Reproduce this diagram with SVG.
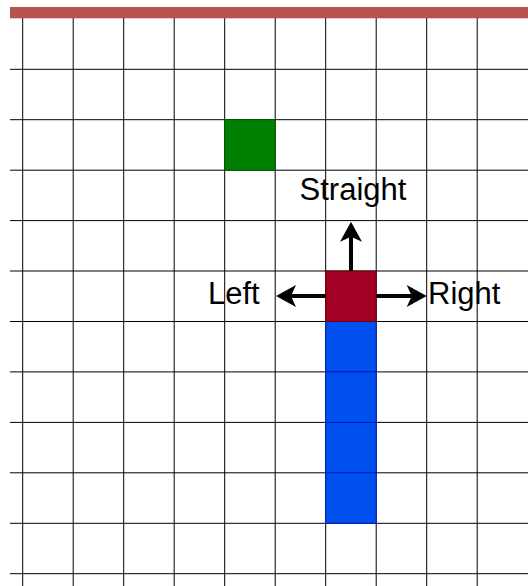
<svg xmlns="http://www.w3.org/2000/svg" width="528" height="586" viewBox="0 0 528 586">
<style>
.grid line{stroke:#000;stroke-width:1}
.lbl{font-family:"Liberation Sans",Arial,sans-serif;font-size:31px;fill:#000}
.arr{stroke:#000;stroke-width:4;fill:none}
.blue{fill:#0050ef;stroke:#001dbc;stroke-width:1}
</style>
<defs>
<marker id="ah" markerUnits="userSpaceOnUse" markerWidth="30" markerHeight="30" refX="5" refY="11" orient="auto" overflow="visible">
<path d="M0,0 L20,11 L0,22 L5,11 Z" fill="#000"/>
</marker>
</defs>
<rect width="528" height="586" fill="#fff"/>
<g class="grid" id="grid">
<line x1="22.7" y1="18" x2="22.7" y2="586"/>
<line x1="73.2" y1="18" x2="73.2" y2="586"/>
<line x1="123.7" y1="18" x2="123.7" y2="586"/>
<line x1="174.2" y1="18" x2="174.2" y2="586"/>
<line x1="224.7" y1="18" x2="224.7" y2="586"/>
<line x1="275.2" y1="18" x2="275.2" y2="586"/>
<line x1="325.7" y1="18" x2="325.7" y2="586"/>
<line x1="376.2" y1="18" x2="376.2" y2="586"/>
<line x1="426.7" y1="18" x2="426.7" y2="586"/>
<line x1="477.2" y1="18" x2="477.2" y2="586"/>
<line x1="10" y1="69.3" x2="528" y2="69.3"/>
<line x1="10" y1="119.7" x2="528" y2="119.7"/>
<line x1="10" y1="170.2" x2="528" y2="170.2"/>
<line x1="10" y1="220.6" x2="528" y2="220.6"/>
<line x1="10" y1="271" x2="528" y2="271"/>
<line x1="10" y1="321.5" x2="528" y2="321.5"/>
<line x1="10" y1="371.9" x2="528" y2="371.9"/>
<line x1="10" y1="422.4" x2="528" y2="422.4"/>
<line x1="10" y1="472.8" x2="528" y2="472.8"/>
<line x1="10" y1="523.3" x2="528" y2="523.3"/>
<line x1="10" y1="573.7" x2="528" y2="573.7"/>
</g>
<g id="wall"><rect x="10" y="7" width="518" height="11.3" fill="#b85450"/></g>
<g id="food"><rect x="224.7" y="119.7" width="50.5" height="50.5" fill="#008000" stroke="#005700" stroke-width="1"/></g>
<g id="snake-body">
<rect class="blue" x="325.7" y="321.5" width="50.5" height="50.4"/>
<rect class="blue" x="325.7" y="371.9" width="50.5" height="50.5"/>
<rect class="blue" x="325.7" y="422.4" width="50.5" height="50.4"/>
<rect class="blue" x="325.7" y="472.8" width="50.5" height="50.5"/>
</g>
<g id="snake-head"><rect x="325.7" y="271" width="50.5" height="50.5" fill="#a20025" stroke="#6f0000" stroke-width="1"/></g>
<g id="connectors">
<line class="arr" x1="351" y1="271" x2="351" y2="236.7" marker-end="url(#ah)"/>
<line class="arr" x1="325.7" y1="296" x2="291" y2="296" marker-end="url(#ah)"/>
<line class="arr" x1="376.2" y1="296" x2="411.7" y2="296" marker-end="url(#ah)"/>
</g>
<g id="label-straight"><text class="lbl" x="353" y="199.5" text-anchor="middle">Straight</text></g>
<g id="label-left"><text class="lbl" x="208" y="303.5">Left</text></g>
<g id="label-right"><text class="lbl" x="428" y="303.5">Right</text></g>
</svg>
